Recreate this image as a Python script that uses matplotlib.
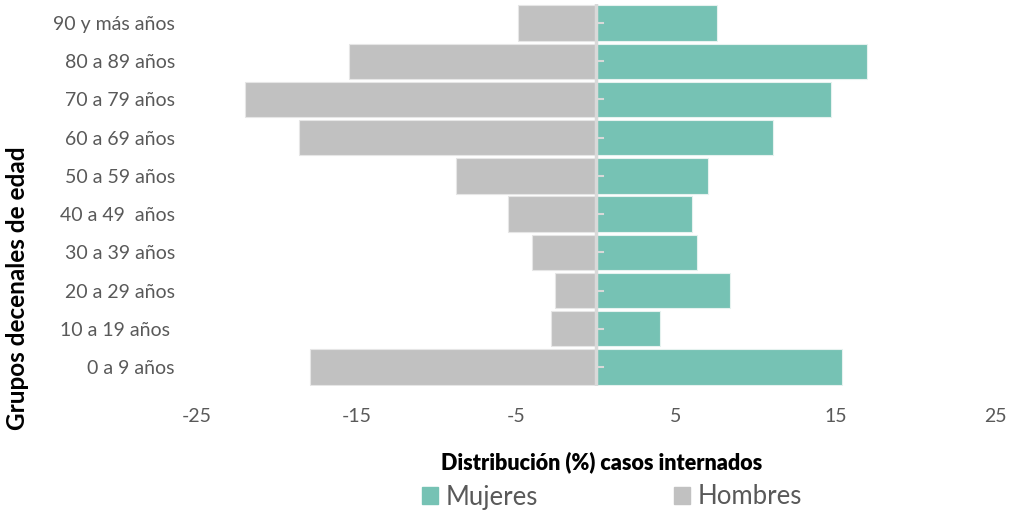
import matplotlib.pyplot as plt
from matplotlib.patches import Patch

# grupos de edad, de abajo hacia arriba
grupos = ['0 a 9 años', '10 a 19 años ', '20 a 29 años', '30 a 39 años', '40 a 49  años',
          '50 a 59 años', '60 a 69 años', '70 a 79 años', '80 a 89 años', '90 y más años']
mujeres = [15.4, 4.0, 8.4, 6.3, 6.0, 7.0, 11.1, 14.7, 17.0, 7.6]
hombres = [-17.9, -2.8, -2.6, -4.0, -5.5, -8.8, -18.6, -22.0, -15.5, -4.9]
xticks = [-25, -15, -5, 5, 15, 25]

verde = '#76c2b4'
gris = '#c1c1c1'
texto = '#595959'

fig = plt.figure(figsize=(10.13, 5.12), dpi=100)
ax = fig.add_axes([197/1013, 1-386/512, 798/1013, 382/512])

y = range(len(grupos))
ax.barh(y, hombres, height=0.93, color=gris, edgecolor='#e6e6e6', linewidth=0.8)
ax.barh(y, mujeres, height=0.93, color=verde, edgecolor='#e6f2ef', linewidth=0.8)

ax.set_xlim(-25, 25)
ax.set_ylim(-0.5, 9.5)
ax.set_xticks(xticks)
ax.set_xticklabels([str(t) for t in xticks], fontsize=14, color=texto, family='Lato')
ax.set_yticks(list(y))
ax.set_yticklabels(grupos, fontsize=14, color=texto, family='Lato')
ax.tick_params(axis='x', length=0, pad=16)
ax.tick_params(axis='y', length=0, pad=16)
for s in ax.spines.values():
    s.set_visible(False)
ax.axvline(0, color='#d9d9d9', lw=2.5, zorder=3)
for yy in y:
    ax.plot([0, 0.45], [yy, yy], color='#d9d9d9', lw=1.5, zorder=3)

fig.text(602/1013, 1-462/512, 'Distribución (%) casos internados', ha='center', va='center',
         fontsize=15.5, fontweight='heavy', family='Lato')
fig.text(18/1013, 1-288/512, 'Grupos decenales de edad', rotation=90, ha='center', va='center',
         fontsize=17.5, fontweight='bold', family='Lato')

handles = [Patch(color=verde, label='Mujeres'), Patch(color=gris, label='Hombres')]
leg = fig.legend(handles=handles, loc='center', bbox_to_anchor=(612/1013, 1-497/512), ncol=2,
                 frameon=False, handlelength=0.6, handleheight=0.6, handletextpad=0.3,
                 columnspacing=5.3, prop={'family': 'Lato', 'size': 18.5})
for t in leg.get_texts():
    t.set_color(texto)

fig.savefig('out.png', dpi=100)
